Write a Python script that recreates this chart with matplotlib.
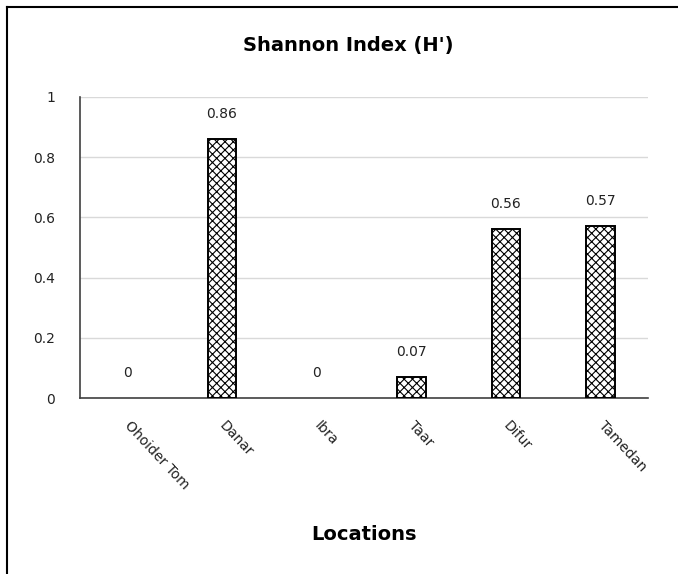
import matplotlib.pyplot as plt
from matplotlib.lines import Line2D
import matplotlib.transforms as mtransforms

# chart data
locations = ['Ohoider Tom', 'Danar', 'Ibra', 'Taar', 'Difur', 'Tamedan']
shannon = [0, 0.86, 0, 0.07, 0.56, 0.57]
value_labels = ['0', '0.86', '0', '0.07', '0.56', '0.57']
yticks = [0, 0.2, 0.4, 0.6, 0.8, 1]
ytick_labels = ['0', '0.2', '0.4', '0.6', '0.8', '1']

plt.rcParams['hatch.linewidth'] = 0.8

fig = plt.figure(figsize=(6.78, 5.74), dpi=100)
ax = fig.add_axes([80/678, 1 - 398/574, (648-80)/678, (398-97)/574])

x = list(range(len(locations)))
edges = ['black' if v > 0 else 'none' for v in shannon]
ax.bar(x, shannon, width=0.3, color='white', edgecolor=edges,
       hatch='xxxx', linewidth=1.4, zorder=3)

for xi, v, lab in zip(x, shannon, value_labels):
    ax.text(xi, v + 0.06, lab, ha='center', va='bottom', fontsize=10, color='#222222')

ax.set_xlim(-0.5, len(locations) - 0.5)
ax.set_ylim(0, 1)
ax.set_yticks(yticks)
ax.set_yticklabels(ytick_labels, fontsize=10, color='#222222')
ax.set_xticks(x)
ax.set_xticklabels(locations, rotation=-47, ha='left', va='center',
                   rotation_mode='anchor', fontsize=10, color='#222222')
offset = mtransforms.ScaledTranslation(-12/100, -4/100, fig.dpi_scale_trans)
for lbl in ax.get_xticklabels():
    lbl.set_transform(lbl.get_transform() + offset)
ax.tick_params(axis='x', length=0, pad=18)
ax.tick_params(axis='y', length=0, pad=18)

ax.grid(axis='y', color='#d9d9d9', linewidth=1, zorder=0)
ax.spines['top'].set_visible(False)
ax.spines['right'].set_visible(False)
ax.spines['left'].set_color('#404040')
ax.spines['bottom'].set_color('#404040')
ax.spines['left'].set_linewidth(1.2)
ax.spines['bottom'].set_linewidth(1.2)

fig.text(348/678, 1 - 46/574, "Shannon Index (H')", ha='center', va='center',
         fontsize=14, fontweight='bold')
fig.text(364/678, 1 - 534/574, 'Locations', ha='center', va='center',
         fontsize=14, fontweight='bold')

# outer chart border (left and top only visible)
fig.add_artist(Line2D([7/678, 1], [1 - 7/574, 1 - 7/574], color='black', linewidth=1.5,
                      transform=fig.transFigure))
fig.add_artist(Line2D([7/678, 7/678], [0, 1 - 7/574], color='black', linewidth=1.5,
                      transform=fig.transFigure))

plt.savefig('out.png', dpi=100)
